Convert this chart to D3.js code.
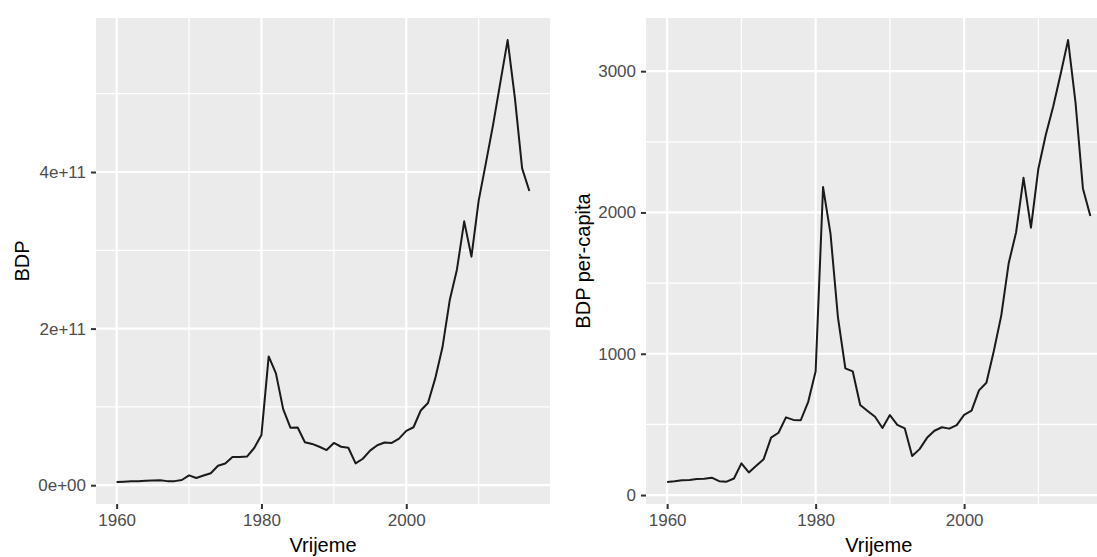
<!DOCTYPE html>
<html>
<head>
<meta charset="utf-8">
<script src="https://cdn.jsdelivr.net/npm/d3@7"></script>
<style>
  body { margin: 0; background: #fff; }
  text { font-family: "Liberation Sans", Arial, sans-serif; }
</style>
</head>
<body>
<svg id="chart" width="1097" height="557"></svg>
<script>
const years = [
  1960, 1961, 1962, 1963, 1964, 1965, 1966, 1967, 1968, 1969,
  1970, 1971, 1972, 1973, 1974, 1975, 1976, 1977, 1978, 1979,
  1980, 1981, 1982, 1983, 1984, 1985, 1986, 1987, 1988, 1989,
  1990, 1991, 1992, 1993, 1994, 1995, 1996, 1997, 1998, 1999,
  2000, 2001, 2002, 2003, 2004, 2005, 2006, 2007, 2008, 2009,
  2010, 2011, 2012, 2013, 2014, 2015, 2016, 2017
];

const bdp = [
  4.2e9, 4.5e9, 4.9e9, 5.2e9, 5.6e9, 5.9e9, 6.4e9, 5.2e9, 5.2e9, 6.6e9,
  12.5e9, 9.2e9, 12.3e9, 15.3e9, 24.8e9, 27.8e9, 36.0e9, 36.0e9, 36.5e9, 47.5e9,
  64.2e9, 164.5e9, 142.8e9, 97.1e9, 73.5e9, 73.7e9, 54.8e9, 52.7e9, 49.1e9, 44.9e9,
  54.0e9, 49.1e9, 47.8e9, 27.8e9, 33.8e9, 44.1e9, 51.1e9, 54.5e9, 54.0e9, 59.4e9,
  69.4e9, 74.0e9, 95.4e9, 104.9e9, 136.4e9, 176.1e9, 236.1e9, 275.6e9, 337.0e9, 291.9e9,
  363.4e9, 411.7e9, 460.9e9, 514.9e9, 568.5e9, 494.6e9, 404.6e9, 375.7e9
];

const bdpPerCapita = [
  93, 97, 104, 107, 113, 116, 123, 98, 95, 117,
  224, 160, 208, 254, 406, 441, 550, 532, 530, 660,
  876, 2180, 1850, 1260, 897, 875, 637, 595, 554, 475,
  566, 497, 472, 276, 325, 405, 455, 480, 470, 495,
  567, 597, 741, 795, 1020, 1270, 1640, 1860, 2245, 1892,
  2310, 2550, 2750, 2980, 3220, 2780, 2170, 1975
];

const xTicks = [1960, 1980, 2000];
const xMinor = [1970, 1990, 2010];
const bdpTicks = [0, 2e11, 4e11];
const bdpTickLabels = ['0e+00', '2e+11', '4e+11'];
const bdpMinor = [1e11, 3e11, 5e11];
const pcTicks = [0, 1000, 2000, 3000];
const pcTickLabels = ['0', '1000', '2000', '3000'];
const pcMinor = [500, 1500, 2500];

const svg = d3.select('#chart');
const panelTop = 18;
const panelBottom = 504;

// ggplot style: 5% expansion of the data range
const expand = (ext) => {
  const pad = (ext[1] - ext[0]) * 0.05;
  return [ext[0] - pad, ext[1] + pad];
};

function drawPanel(cfg) {
  const x = d3.scaleLinear()
    .domain(expand(d3.extent(years)))
    .range([cfg.left, cfg.right]);
  const y = d3.scaleLinear()
    .domain(expand(d3.extent(cfg.values)))
    .range([panelBottom, panelTop]);

  const g = svg.append('g');
  const clipId = 'clip-' + cfg.id;
  g.append('clipPath').attr('id', clipId)
    .append('rect')
    .attr('x', cfg.left).attr('y', panelTop)
    .attr('width', cfg.right - cfg.left).attr('height', panelBottom - panelTop);

  // PANEL
  g.append('rect')
    .attr('x', cfg.left).attr('y', panelTop)
    .attr('width', cfg.right - cfg.left).attr('height', panelBottom - panelTop)
    .attr('fill', '#ebebeb');

  const grid = g.append('g').attr('clip-path', `url(#${clipId})`);
  cfg.yMinor.forEach(v => {
    grid.append('line')
      .attr('x1', cfg.left).attr('x2', cfg.right)
      .attr('y1', y(v)).attr('y2', y(v))
      .attr('stroke', '#fff').attr('stroke-width', 1.2);
  });
  xMinor.forEach(v => {
    grid.append('line')
      .attr('x1', x(v)).attr('x2', x(v))
      .attr('y1', panelTop).attr('y2', panelBottom)
      .attr('stroke', '#fff').attr('stroke-width', 1.2);
  });
  cfg.yTicks.forEach(v => {
    grid.append('line')
      .attr('x1', cfg.left).attr('x2', cfg.right)
      .attr('y1', y(v)).attr('y2', y(v))
      .attr('stroke', '#fff').attr('stroke-width', 2.2);
  });
  xTicks.forEach(v => {
    grid.append('line')
      .attr('x1', x(v)).attr('x2', x(v))
      .attr('y1', panelTop).attr('y2', panelBottom)
      .attr('stroke', '#fff').attr('stroke-width', 2.2);
  });

  // LINE
  const line = d3.line()
    .x((d, i) => x(years[i]))
    .y(d => y(d));
  grid.append('path')
    .attr('d', line(cfg.values))
    .attr('fill', 'none')
    .attr('stroke', '#1a1a1a')
    .attr('stroke-width', 2)
    .attr('stroke-linejoin', 'round');

  // AXES
  const xAxis = d3.axisBottom(x)
    .tickValues(xTicks)
    .tickFormat(d3.format('d'))
    .tickSize(5)
    .tickPadding(5);
  const xg = g.append('g')
    .attr('transform', `translate(0,${panelBottom})`)
    .call(xAxis);

  const yAxis = d3.axisLeft(y)
    .tickValues(cfg.yTicks)
    .tickFormat((d, i) => cfg.yLabels[i])
    .tickSize(5)
    .tickPadding(5);
  const yg = g.append('g')
    .attr('transform', `translate(${cfg.left},0)`)
    .call(yAxis);

  [xg, yg].forEach(a => {
    a.select('.domain').remove();
    a.selectAll('.tick line').attr('stroke', '#333').attr('stroke-width', 2);
    a.selectAll('.tick text')
      .attr('fill', '#4d4d4d')
      .style('font-size', '17px')
      .style('font-family', '"Liberation Sans", Arial, sans-serif');
  });

  // TITLES
  g.append('text')
    .attr('x', (cfg.left + cfg.right) / 2)
    .attr('y', 552)
    .attr('text-anchor', 'middle')
    .style('font-size', '20px')
    .attr('fill', '#000')
    .text('Vrijeme');
  g.append('text')
    .attr('transform', `translate(${cfg.titleX},${(panelTop + panelBottom) / 2}) rotate(-90)`)
    .attr('text-anchor', 'middle')
    .style('font-size', '20px')
    .attr('fill', '#000')
    .text(cfg.title);
}

drawPanel({
  id: 'bdp', left: 96, right: 550, values: bdp,
  yTicks: bdpTicks, yLabels: bdpTickLabels, yMinor: bdpMinor,
  title: 'BDP', titleX: 28.5
});
drawPanel({
  id: 'pc', left: 646, right: 1111.5, values: bdpPerCapita,
  yTicks: pcTicks, yLabels: pcTickLabels, yMinor: pcMinor,
  title: 'BDP per-capita', titleX: 589.5
});
</script>
</body>
</html>
